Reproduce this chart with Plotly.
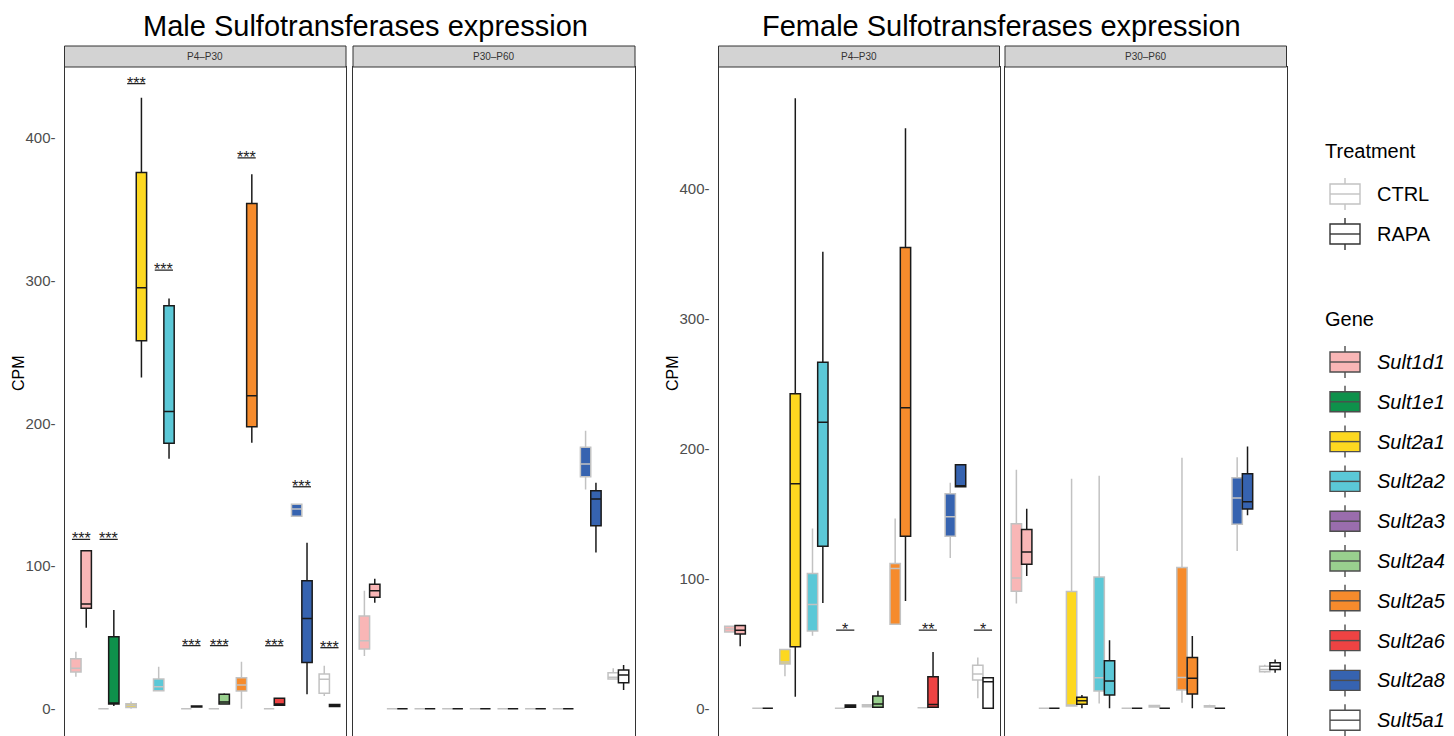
import plotly.graph_objects as go

# page body has an 8px default margin: the figure starts at (8, 8) in the window
OFF = 8
W, H = 1454 - OFF, 736 - OFF
FONT = "Arial, 'Liberation Sans', Helvetica, sans-serif"

# ---------------- data ----------------
genes = ["Sult1d1", "Sult1e1", "Sult2a1", "Sult2a2", "Sult2a3",
         "Sult2a4", "Sult2a5", "Sult2a6", "Sult2a8", "Sult5a1"]
gene_colors = ["#F9B6B6", "#0E914B", "#FDD820", "#5BC8D7", "#9A6DAD",
               "#99D08E", "#F68B2C", "#EE4343", "#3663B0", "#FFFFFF"]
treatments = ["CTRL", "RAPA"]
treat_line_colors = ["#C2C2C2", "#1A1A1A"]
periods = ["P4–P30", "P30–P60"]
y_tickvals = [0, 100, 200, 300, 400]

# Male, P4–P30
M_P4_CTRL_lo  = [22.4, 0.0, 0.0, 12.6, 0.0, 0.0, 0.0, 0.0, 135.0, 8.9]
M_P4_CTRL_q1  = [25.7, 0.0, 0.8, 12.6, 0.0, 0.0, 12.4, 0.0, 135.0, 10.8]
M_P4_CTRL_med = [28.3, 0.0, 2.2, 15.4, 0.0, 0.0, 16.6, 0.0, 140.0, 20.6]
M_P4_CTRL_q3  = [35.0, 0.0, 3.5, 20.8, 0.0, 0.0, 21.7, 0.0, 143.4, 24.3]
M_P4_CTRL_hi  = [40.0, 0.0, 5.0, 29.4, 0.0, 0.0, 33.0, 0.0, 143.4, 30.1]
M_P4_RAPA_lo  = [56.8, 2.0, 232.2, 175.2, 1.0, 3.3, 186.4, 2.4, 10.1, 1.2]
M_P4_RAPA_q1  = [70.4, 3.3, 257.9, 186.0, 1.2, 3.3, 197.6, 2.4, 32.5, 1.5]
M_P4_RAPA_med = [73.4, 4.0, 295.0, 208.4, 1.6, 4.8, 219.3, 3.3, 63.3, 2.2]
M_P4_RAPA_q3  = [110.7, 50.5, 375.9, 282.4, 2.0, 10.1, 354.2, 7.3, 89.7, 3.0]
M_P4_RAPA_hi  = [110.7, 69.2, 428.2, 287.6, 2.2, 10.8, 374.7, 7.3, 116.3, 3.0]

# Male, P30–P60
M_P30_CTRL_lo  = [36.9, 0.0, 0.0, 0.0, 0.0, 0.0, 0.0, 0.0, 153.7, 20.8]
M_P30_CTRL_q1  = [41.8, 0.0, 0.0, 0.0, 0.0, 0.0, 0.0, 0.0, 162.6, 20.8]
M_P30_CTRL_med = [47.7, 0.0, 0.0, 0.0, 0.0, 0.0, 0.0, 0.0, 171.5, 22.0]
M_P30_CTRL_q3  = [65.0, 0.0, 0.0, 0.0, 0.0, 0.0, 0.0, 0.0, 183.2, 25.2]
M_P30_CTRL_hi  = [82.7, 0.0, 0.0, 0.0, 0.0, 0.0, 0.0, 0.0, 194.8, 28.3]
M_P30_RAPA_lo  = [74.3, 0.0, 0.0, 0.0, 0.0, 0.0, 0.0, 0.0, 109.6, 13.1]
M_P30_RAPA_q1  = [78.1, 0.0, 0.0, 0.0, 0.0, 0.0, 0.0, 0.0, 128.2, 18.2]
M_P30_RAPA_med = [82.7, 0.0, 0.0, 0.0, 0.0, 0.0, 0.0, 0.0, 147.0, 23.6]
M_P30_RAPA_q3  = [87.2, 0.0, 0.0, 0.0, 0.0, 0.0, 0.0, 0.0, 152.8, 27.1]
M_P30_RAPA_hi  = [91.1, 0.0, 0.0, 0.0, 0.0, 0.0, 0.0, 0.0, 158.4, 30.6]

# Female, P4–P30
F_P4_CTRL_lo  = [58.9, 0.0, 24.8, 55.9, 0.0, 1.0, 64.8, 0.5, 115.8, 7.7]
F_P4_CTRL_q1  = [58.9, 0.0, 34.1, 59.5, 0.0, 1.2, 64.8, 0.5, 132.5, 21.8]
F_P4_CTRL_med = [61.2, 0.0, 35.8, 80.0, 0.0, 2.0, 107.7, 0.5, 147.7, 26.4]
F_P4_CTRL_q3  = [63.3, 0.0, 45.4, 103.8, 0.0, 2.8, 111.5, 0.5, 165.4, 33.3]
F_P4_CTRL_hi  = [63.3, 0.0, 45.4, 138.5, 0.0, 3.0, 146.2, 0.5, 173.8, 39.2]
F_P4_RAPA_lo  = [47.9, 0.0, 8.9, 81.2, 0.5, 0.8, 82.8, 0.8, 170.8, 0.0]
F_P4_RAPA_q1  = [57.2, 0.0, 47.4, 124.8, 0.8, 0.8, 132.5, 0.8, 170.8, 0.0]
F_P4_RAPA_med = [60.2, 0.0, 173.1, 220.5, 1.2, 3.3, 231.5, 3.0, 171.3, 20.5]
F_P4_RAPA_q3  = [63.8, 0.0, 242.3, 266.6, 2.5, 9.5, 355.1, 24.3, 187.7, 23.5]
F_P4_RAPA_hi  = [63.8, 0.0, 470.0, 351.8, 2.5, 13.5, 446.9, 43.5, 187.7, 23.5]

# Female, P30–P60
F_P30_CTRL_lo  = [80.8, 0.0, 1.8, 3.8, 0.0, 0.8, 4.3, 0.8, 121.2, 27.5]
F_P30_CTRL_q1  = [90.2, 0.0, 1.8, 13.3, 0.0, 1.0, 14.1, 1.0, 141.8, 28.2]
F_P30_CTRL_med = [100.5, 0.0, 2.5, 23.5, 0.0, 1.5, 23.8, 1.5, 162.0, 30.0]
F_P30_CTRL_q3  = [142.3, 0.0, 90.0, 101.2, 0.0, 2.2, 108.5, 2.0, 177.7, 32.5]
F_P30_CTRL_hi  = [183.8, 0.0, 176.9, 179.2, 0.0, 2.8, 193.1, 2.8, 193.5, 33.5]
F_P30_RAPA_lo  = [102.0, 0.0, 0.0, 0.0, 0.0, 0.0, 0.0, 0.0, 148.7, 27.4]
F_P30_RAPA_q1  = [111.0, 0.0, 3.1, 10.2, 0.0, 0.0, 11.0, 0.0, 153.5, 30.0]
F_P30_RAPA_med = [120.5, 0.0, 5.8, 21.0, 0.0, 0.0, 23.1, 0.0, 159.2, 32.5]
F_P30_RAPA_q3  = [137.7, 0.0, 8.5, 36.6, 0.0, 0.0, 39.2, 0.0, 180.8, 35.1]
F_P30_RAPA_hi  = [153.8, 0.0, 10.3, 52.5, 0.0, 0.0, 55.8, 0.0, 201.8, 37.6]

# significance marks (P4–P30 panels)
M_sig_labels = ["***", "***", "***", "***", "***", "***", "***", "***", "***", "***"]
M_sig_y      = [118.7, 118.7, 438.2, 307.4, 44.2, 44.2, 386.1, 44.2, 155.6, 42.8]
F_sig_genes  = ["Sult2a3", "Sult2a6", "Sult5a1"]
F_sig_labels = ["*", "**", "*"]
F_sig_y      = [60.2, 60.2, 60.2]

titles = ["Male Sulfotransferases expression", "Female Sulfotransferases expression"]

# ---------------- layout helpers (window pixel -> paper) ----------------
def fx(px):
    return (px - OFF) / W

def fy(py):
    return 1 - (py - OFF) / H

PANEL_TOP = 67
STRIP_TOP = 46
panel_x = [(64.5, 346), (353, 635), (718.5, 999.5), (1005, 1286.5)]
y_ranges = [[-19.1, 449.8], [-21.3, 494.1]]

stats = {
    (0, "CTRL"): (M_P4_CTRL_lo, M_P4_CTRL_q1, M_P4_CTRL_med, M_P4_CTRL_q3, M_P4_CTRL_hi),
    (0, "RAPA"): (M_P4_RAPA_lo, M_P4_RAPA_q1, M_P4_RAPA_med, M_P4_RAPA_q3, M_P4_RAPA_hi),
    (1, "CTRL"): (M_P30_CTRL_lo, M_P30_CTRL_q1, M_P30_CTRL_med, M_P30_CTRL_q3, M_P30_CTRL_hi),
    (1, "RAPA"): (M_P30_RAPA_lo, M_P30_RAPA_q1, M_P30_RAPA_med, M_P30_RAPA_q3, M_P30_RAPA_hi),
    (2, "CTRL"): (F_P4_CTRL_lo, F_P4_CTRL_q1, F_P4_CTRL_med, F_P4_CTRL_q3, F_P4_CTRL_hi),
    (2, "RAPA"): (F_P4_RAPA_lo, F_P4_RAPA_q1, F_P4_RAPA_med, F_P4_RAPA_q3, F_P4_RAPA_hi),
    (3, "CTRL"): (F_P30_CTRL_lo, F_P30_CTRL_q1, F_P30_CTRL_med, F_P30_CTRL_q3, F_P30_CTRL_hi),
    (3, "RAPA"): (F_P30_RAPA_lo, F_P30_RAPA_q1, F_P30_RAPA_med, F_P30_RAPA_q3, F_P30_RAPA_hi),
}

fig = go.Figure()

for p in range(4):
    xa = "x" if p == 0 else f"x{p+1}"
    ya = "y" if p == 0 else f"y{p+1}"
    for gi, g in enumerate(genes):
        for ti, t in enumerate(treatments):
            lo, q1, med, q3, hi = stats[(p, t)]
            fig.add_trace(go.Box(
                x=[g], lowerfence=[lo[gi]], q1=[q1[gi]], median=[med[gi]],
                q3=[q3[gi]], upperfence=[hi[gi]],
                offsetgroup=t, name=f"{g} {t}",
                fillcolor=gene_colors[gi],
                line=dict(color=treat_line_colors[ti], width=1.5),
                whiskerwidth=0, boxpoints=False, showlegend=False,
                xaxis=xa, yaxis=ya, hoverinfo="y",
            ))

layout_axes = {}
for p in range(4):
    xk = "xaxis" if p == 0 else f"xaxis{p+1}"
    yk = "yaxis" if p == 0 else f"yaxis{p+1}"
    ya = "y" if p == 0 else f"y{p+1}"
    xa = "x" if p == 0 else f"x{p+1}"
    x0, x1 = panel_x[p]
    sex = p // 2
    layout_axes[xk] = dict(
        domain=[fx(x0), fx(x1)], anchor=ya, type="category",
        categoryorder="array", categoryarray=genes,
        range=[-0.6, 9.6], showticklabels=False, ticks="",
        showgrid=False, zeroline=False, side="top",
        showline=True, linecolor="#333333", linewidth=1, fixedrange=True,
    )
    layout_axes[yk] = dict(
        domain=[0, fy(PANEL_TOP)], anchor=xa, range=y_ranges[sex],
        showgrid=False, zeroline=False, showline=True, mirror=True,
        linecolor="#333333", linewidth=1,
        tickvals=y_tickvals, ticktext=[f"{v}-" for v in y_tickvals], ticks="",
        showticklabels=(p % 2 == 0), ticklabelstandoff=5,
        tickfont=dict(size=15, color="#4D4D4D", family=FONT), fixedrange=True,
    )

shapes = []
annotations = []

# strips
for p in range(4):
    x0, x1 = panel_x[p]
    shapes.append(dict(type="rect", xref="paper", yref="paper",
                       x0=fx(x0), x1=fx(x1), y0=fy(PANEL_TOP), y1=fy(STRIP_TOP),
                       fillcolor="#D3D3D3", line=dict(color="#333333", width=1)))
    annotations.append(dict(text=periods[p % 2], xref="paper", yref="paper",
                            x=fx((x0 + x1) / 2), y=fy((PANEL_TOP + STRIP_TOP) / 2),
                            showarrow=False, xanchor="center", yanchor="middle",
                            font=dict(size=10, color="#333333", family=FONT)))

# titles
for s, cx in enumerate([365, 1001]):
    annotations.append(dict(text=titles[s], xref="paper", yref="paper",
                            x=fx(cx), y=fy(26), showarrow=False,
                            xanchor="center", yanchor="middle",
                            font=dict(size=29, color="#000000", family=FONT)))

# CPM axis titles
for cx in [18, 672]:
    annotations.append(dict(text="CPM", xref="paper", yref="paper",
                            x=fx(cx), y=fy(373), showarrow=False, textangle=-90,
                            xanchor="center", yanchor="middle",
                            font=dict(size=16, color="#000000", family=FONT)))

# significance marks
def add_sig(axis_idx, gene, label, yval):
    xr = "x" if axis_idx == 0 else f"x{axis_idx+1}"
    yr = "y" if axis_idx == 0 else f"y{axis_idx+1}"
    gi = genes.index(gene)
    shapes.append(dict(type="line", xref=xr, yref=yr, x0=gi - 0.33, x1=gi + 0.33,
                       y0=yval, y1=yval, line=dict(color="#222222", width=1.3)))
    annotations.append(dict(text=label, xref=xr, yref=yr, x=gene, y=yval,
                            showarrow=False, xanchor="center", yanchor="bottom",
                            yshift=-10, font=dict(size=16, color="#222222", family=FONT)))

for gi, g in enumerate(genes):
    add_sig(0, g, M_sig_labels[gi], M_sig_y[gi])
for g, lab, yv in zip(F_sig_genes, F_sig_labels, F_sig_y):
    add_sig(2, g, lab, yv)

# legend (drawn manually, ggplot style key glyphs)
def key(cy, fill, line):
    kx0, kx1, kc = 1330, 1360, 1345
    shapes.append(dict(type="line", xref="paper", yref="paper", x0=fx(kc), x1=fx(kc),
                       y0=fy(cy - 16), y1=fy(cy - 10), line=dict(color=line, width=1.4)))
    shapes.append(dict(type="line", xref="paper", yref="paper", x0=fx(kc), x1=fx(kc),
                       y0=fy(cy + 10), y1=fy(cy + 16), line=dict(color=line, width=1.4)))
    shapes.append(dict(type="rect", xref="paper", yref="paper", x0=fx(kx0), x1=fx(kx1),
                       y0=fy(cy + 10), y1=fy(cy - 10), fillcolor=fill,
                       line=dict(color=line, width=1.4)))
    shapes.append(dict(type="line", xref="paper", yref="paper", x0=fx(kx0), x1=fx(kx1),
                       y0=fy(cy), y1=fy(cy), line=dict(color=line, width=1.4)))

def legend_text(txt, x, cy, italic=False):
    annotations.append(dict(text=f"<i>{txt}</i>" if italic else txt,
                            xref="paper", yref="paper", x=fx(x), y=fy(cy),
                            showarrow=False, xanchor="left", yanchor="middle",
                            font=dict(size=20, color="#000000", family=FONT)))

legend_text("Treatment", 1323, 151)
for ti, t in enumerate(treatments):
    cy = 194 + 40 * ti
    key(cy, "#FFFFFF", treat_line_colors[ti] if ti == 0 else "#333333")
    legend_text(t, 1375, cy)

legend_text("Gene", 1323, 319)
for gi, g in enumerate(genes):
    cy = 362 + 39.8 * gi
    key(cy, gene_colors[gi], "#4D4D4D")
    legend_text(g, 1375, cy, italic=True)

fig.update_layout(
    width=W, height=H, margin=dict(l=0, r=0, t=0, b=0),
    paper_bgcolor="#FFFFFF", plot_bgcolor="#FFFFFF",
    boxmode="group", boxgap=0.25, boxgroupgap=0,
    showlegend=False, shapes=shapes, annotations=annotations,
    font=dict(family=FONT),
    **layout_axes,
)

fig.write_html("out.html", config={"displayModeBar": False})
